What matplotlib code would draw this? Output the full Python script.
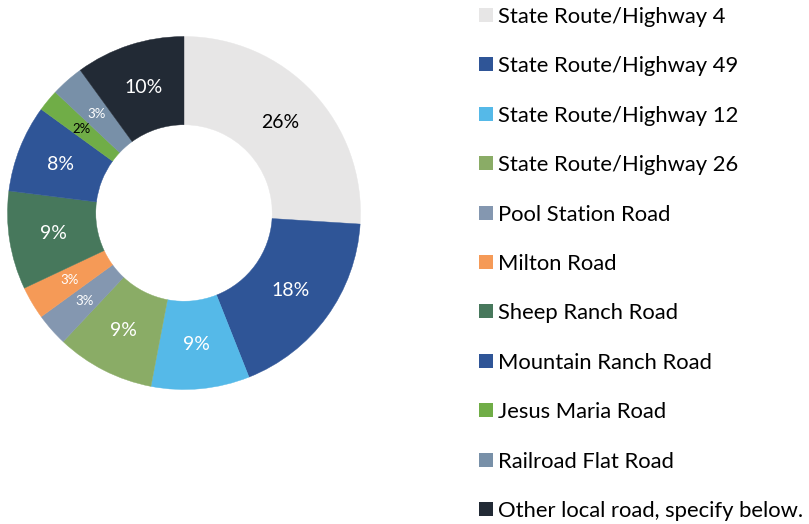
import matplotlib
matplotlib.use("Agg")
import matplotlib.pyplot as plt
from matplotlib.patches import Rectangle
import numpy as np

plt.rcParams['font.family'] = ['Lato', 'DejaVu Sans']

roads = [
    "State Route/Highway 4",
    "State Route/Highway 49",
    "State Route/Highway 12",
    "State Route/Highway 26",
    "Pool Station Road",
    "Milton Road",
    "Sheep Ranch Road",
    "Mountain Ranch Road",
    "Jesus Maria Road",
    "Railroad Flat Road",
    "Other local road, specify below.",
]
shares = [26, 18, 9, 9, 3, 3, 9, 8, 2, 3, 10]
colors = [
    "#E7E6E6", "#2F5597", "#55B9E8", "#8AAC66", "#8497B0", "#F59A57",
    "#47785C", "#2F5597", "#70AD47", "#7890A8", "#222A35",
]
label_colors = ["black", "white", "white", "white", "white", "white",
                "white", "white", "black", "white", "white"]
label_sizes = [14, 14, 14, 14, 9.5, 9.5, 14, 14, 9.5, 9.5, 14]

W, H = 809, 524
fig = plt.figure(figsize=(W / 100, H / 100), dpi=100)

# Square axes holding the ring
cx, cy, r = 184, 213, 176.5
ax = fig.add_axes([(cx - r) / W, 1 - (cy + r) / H, 2 * r / W, 2 * r / H])

wedges, _ = ax.pie(
    shares, colors=colors, startangle=90, counterclock=False,
    radius=1.0, wedgeprops=dict(width=0.5, linewidth=0),
)
for w, c in zip(wedges, colors):
    w.set_edgecolor(c)
    w.set_linewidth(0.3)
ax.set_xlim(-1, 1)
ax.set_ylim(-1, 1)
ax.set_aspect("auto")
ax.axis("off")

# Percentage labels at the middle of the ring
total = sum(shares)
cum = 0
for v, col, fs in zip(shares, label_colors, label_sizes):
    mid = cum + v / 2
    cum += v
    ang = np.deg2rad(90 - 360 * mid / total)
    rr = 0.75
    ax.text(rr * np.cos(ang), rr * np.sin(ang), f"{v}%", color=col,
            fontsize=fs, ha="center", va="center")

# Legend drawn as a column of swatches and labels
y0, dy = 15, 49.4
for i, (name, col) in enumerate(zip(roads, colors)):
    yc = y0 + i * dy
    fig.patches.append(Rectangle((479 / W, 1 - (yc + 7) / H), 14 / W, 14 / H,
                                 transform=fig.transFigure, facecolor=col,
                                 edgecolor="none"))
    fig.text(498 / W, 1 - yc / H, name, fontsize=15.8, ha="left",
             va="center_baseline", color="black")

fig.savefig("out.png", dpi=100, facecolor="white")
